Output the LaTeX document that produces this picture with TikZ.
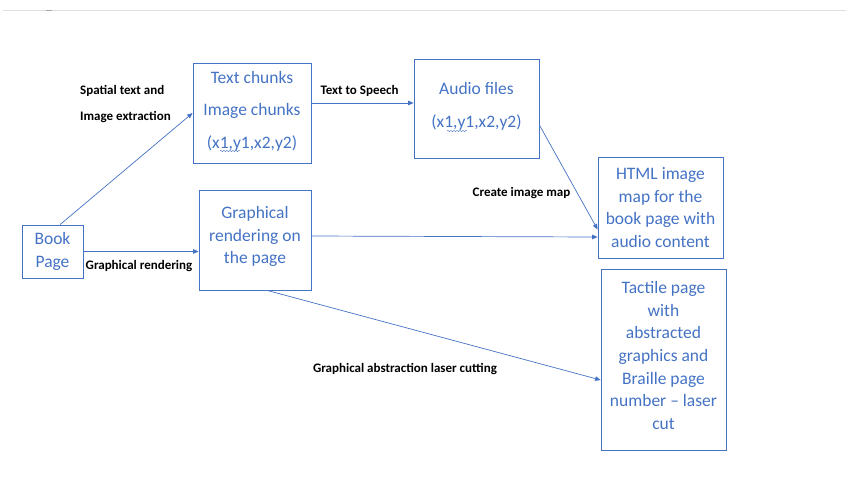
\documentclass[tikz,border=0pt]{standalone}
\usepackage{fontspec}
\setmainfont{Carlito}
\usetikzlibrary{arrows.meta, positioning, decorations.pathmorphing}

\definecolor{wordblue}{RGB}{68,114,196}

\begin{document}
\begin{tikzpicture}[x=1pt, y=-1pt,
    box/.style={draw=wordblue, line width=0.75pt, text=wordblue, align=center, inner sep=2pt,
        font={\fontsize{17.5}{22.7}\selectfont}},
    wide/.style={font={\fontsize{17.5}{32.5}\selectfont}},
    lbl/.style={font={\fontsize{13}{26}\selectfont\bfseries}, inner sep=0pt},
    flow/.style={draw=wordblue, line width=0.7pt, -{Triangle[length=5.5pt, width=4.5pt]}},
    squig/.style={wordblue, decorate, decoration={snake, amplitude=0.6pt, segment length=3pt}}]

    \useasboundingbox (0,0) rectangle (846,485);

    % -------------------------------------------------------------
    % TOP EDGE OF THE SCREENSHOT
    % -------------------------------------------------------------
    \draw[gray!25, line width=0.8pt] (3,10.5) -- (846,10.5);
    \draw[gray!70, line width=0.8pt] (46,10.5) -- (52,10.5);

    % -------------------------------------------------------------
    % BOXES (text depth lifts the text a little inside the frame)
    % -------------------------------------------------------------
    \node[box, minimum width=61, minimum height=53] (book) at (52.5,251.5) {Book\\Page};
    \node[box, wide, minimum width=118, minimum height=100, text depth=6.5pt] (chunks) at (252,113)
        {Text chunks\\Image chunks\\(x1,y1,x2,y2)};
    \node[box, wide, minimum width=125, minimum height=99, text depth=7.5pt] (audio) at (476.5,108.5)
        {Audio files\\(x1,y1,x2,y2)};
    \node[box, minimum width=112, minimum height=100, text depth=9.6pt] (graph) at (255,240)
        {Graphical\\rendering on\\the page};
    \node[box, minimum width=125, minimum height=101] (html) at (660.5,207.5)
        {HTML image\\map for the\\book page with\\audio content};
    \node[box, minimum width=125, minimum height=181, text depth=8pt] (tactile) at (663.5,359.5)
        {Tactile page\\with\\abstracted\\graphics and\\Braille page\\number -- laser\\cut};

    % spell-check marks under the coordinates
    \draw[squig] (220,151) -- (240,151);
    \draw[squig] (447,131) -- (467,131);

    % -------------------------------------------------------------
    % CONNECTORS
    % -------------------------------------------------------------
    \draw[flow] ([xshift=7.5pt]book.north) -- (chunks.west);
    \draw[flow] ([yshift=10pt]chunks.east) -- ([yshift=5.5pt]audio.west);
    \draw[flow] ([yshift=-16.5pt]audio.east) -- ([yshift=-22pt]html.west);
    \draw[flow] (book.east) -- (book.east -| graph.west);
    \draw[flow] ([yshift=4pt]graph.east) -- ([yshift=-29.5pt]html.west);
    \draw[flow] ([xshift=12pt]graph.south) -- ([yshift=-20.5pt]tactile.west);

    % -------------------------------------------------------------
    % CONNECTOR LABELS
    % -------------------------------------------------------------
    \node[lbl, align=left, anchor=west] (spatial) at (80,104) {Spatial text and\\Image extraction};
    \node[lbl] (tts) at (359.5,91) {Text to Speech};
    \node[lbl] (imap) at (521.5,193) {Create image map};
    \node[lbl] (render) at (139,266) {Graphical rendering};
    \node[lbl] (laser) at (405,369) {Graphical abstraction laser cutting};

\end{tikzpicture}
\end{document}
